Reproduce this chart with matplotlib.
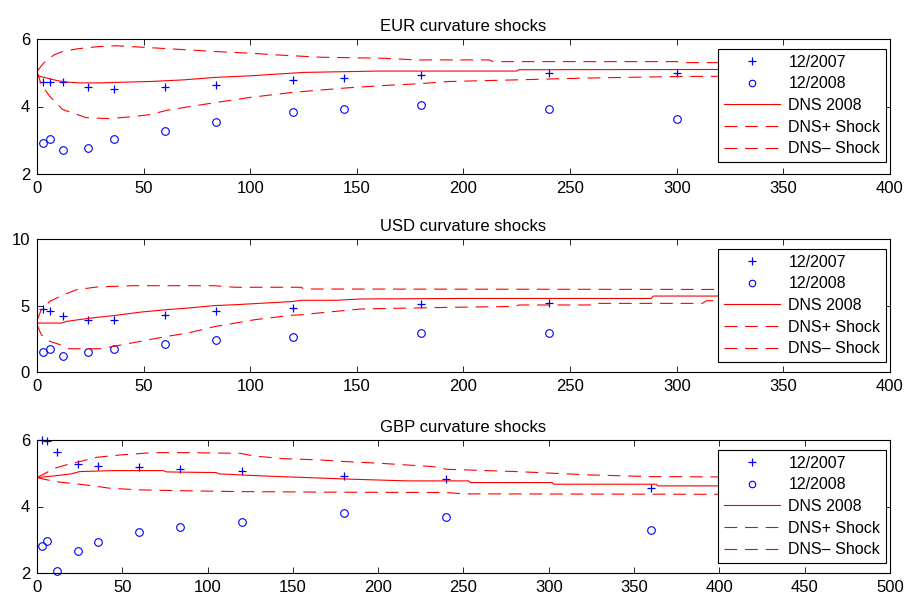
import matplotlib
matplotlib.use("Agg")
import matplotlib.pyplot as plt

plt.rcParams['font.family'] = ['Liberation Sans', 'DejaVu Sans']
plt.rcParams['lines.scale_dashes'] = False

# ---------------- EUR ----------------
eur_mat = [3, 6, 12, 24, 36, 60, 84, 120, 144, 180, 240, 300]
eur_2007 = [4.74, 4.74, 4.74, 4.58, 4.53, 4.58, 4.63, 4.78, 4.83, 4.93, 4.98, 4.98]
eur_2008 = [2.92, 3.03, 2.71, 2.76, 3.03, 3.27, 3.53, 3.83, 3.93, 4.03, 3.93, 3.63]

eur_dns_x = [0, 3, 6, 10, 15, 20, 30, 40, 53, 69, 83, 100, 125, 160, 200, 225, 226, 360]
eur_dns_y = [4.91, 4.87, 4.82, 4.76, 4.72, 4.70, 4.70, 4.72, 4.74, 4.79, 4.86, 4.91,
             5.01, 5.05, 5.05, 5.05, 5.09, 5.10]
eur_up_x = [0, 3, 8, 12, 19, 28, 37, 51, 65, 83, 100, 112, 133, 162, 178, 212, 214,
            300, 302, 360]
eur_up_y = [5.04, 5.28, 5.53, 5.63, 5.71, 5.77, 5.80, 5.75, 5.70, 5.63, 5.58, 5.53,
            5.46, 5.43, 5.38, 5.38, 5.33, 5.33, 5.30, 5.30]
eur_lo_x = [0, 2, 6, 12, 19, 23, 34, 45, 53, 61, 83, 100, 120, 145, 162, 178, 193,
            225, 256, 301, 360]
eur_lo_y = [5.04, 4.65, 4.30, 3.91, 3.76, 3.67, 3.64, 3.70, 3.76, 3.89, 4.11, 4.27,
            4.42, 4.55, 4.62, 4.67, 4.74, 4.79, 4.84, 4.89, 4.90]

# ---------------- USD ----------------
usd_mat = [3, 6, 12, 24, 36, 60, 84, 120, 180, 240]
usd_2007 = [4.74, 4.56, 4.19, 3.93, 3.93, 4.31, 4.56, 4.84, 5.11, 5.21]
usd_2008 = [1.48, 1.75, 1.23, 1.48, 1.75, 2.13, 2.38, 2.66, 2.91, 2.91]

usd_dns_x = [0, 11.5, 14, 23, 30, 36, 49, 61, 71, 83, 93, 102, 119, 124, 140, 152,
             200, 288, 289, 360]
usd_dns_y = [3.68, 3.68, 3.81, 4.01, 4.14, 4.24, 4.51, 4.69, 4.81, 4.99, 5.06, 5.14,
             5.29, 5.39, 5.39, 5.49, 5.53, 5.53, 5.71, 5.71]
usd_up_x = [0, 2, 6, 11.5, 18.6, 28, 45, 83, 93, 124, 125, 360]
usd_up_y = [3.88, 4.69, 5.31, 5.74, 6.19, 6.39, 6.49, 6.49, 6.37, 6.37, 6.24, 6.20]
usd_lo_x = [0, 2, 6, 10.7, 15, 29.6, 36, 48.6, 61, 70.7, 83, 93, 102, 119, 124, 140,
            152, 193, 224, 226, 261, 263, 312, 314, 360]
usd_lo_y = [3.56, 2.81, 2.31, 2.06, 1.75, 1.75, 1.93, 2.31, 2.68, 2.93, 3.40, 3.68,
            3.93, 4.26, 4.31, 4.56, 4.74, 4.86, 4.93, 5.04, 5.04, 5.16, 5.16, 5.36, 5.36]

# ---------------- GBP ----------------
gbp_mat = [3, 6, 12, 24, 36, 60, 84, 120, 180, 240, 360]
gbp_2007 = [6.00, 5.97, 5.65, 5.27, 5.23, 5.18, 5.13, 5.08, 4.91, 4.82, 4.55]
gbp_2008 = [2.82, 2.97, 2.05, 2.66, 2.92, 3.23, 3.38, 3.54, 3.79, 3.69, 3.28]

gbp_dns_x = [0, 10, 20, 25, 45, 74, 76, 105, 107, 132, 158, 185, 217, 253, 254,
             302, 303, 363, 364, 480]
gbp_dns_y = [4.87, 4.92, 4.98, 5.05, 5.08, 5.08, 5.04, 5.02, 4.98, 4.92, 4.87, 4.82,
             4.77, 4.77, 4.72, 4.72, 4.67, 4.67, 4.62, 4.62]
gbp_up_x = [0, 10.4, 17, 25, 35, 48.5, 68, 88, 119, 127, 144, 166, 181, 201, 232, 240,
            281, 324, 359, 480]
gbp_up_y = [4.87, 5.15, 5.25, 5.35, 5.48, 5.55, 5.62, 5.62, 5.60, 5.52, 5.44, 5.40,
            5.35, 5.30, 5.20, 5.12, 5.05, 4.95, 4.90, 4.87]
gbp_lo_x = [0, 10.4, 23, 33, 42.6, 60, 80, 115, 174, 240, 250, 480]
gbp_lo_y = [4.87, 4.75, 4.68, 4.62, 4.55, 4.50, 4.48, 4.45, 4.43, 4.42, 4.38, 4.36]

titles = ["EUR curvature shocks", "USD curvature shocks", "GBP curvature shocks"]
labels = ["12/2007", "12/2008", "DNS 2008", "DNS+ Shock", "DNS\u2013 Shock"]

panels = [
    dict(mat=eur_mat, y07=eur_2007, y08=eur_2008,
         dx=eur_dns_x, dy=eur_dns_y, ux=eur_up_x, uy=eur_up_y, lx=eur_lo_x, ly=eur_lo_y,
         xlim=(0, 400), xticks=range(0, 401, 50), ylim=(2, 6), yticks=[2, 4, 6]),
    dict(mat=usd_mat, y07=usd_2007, y08=usd_2008,
         dx=usd_dns_x, dy=usd_dns_y, ux=usd_up_x, uy=usd_up_y, lx=usd_lo_x, ly=usd_lo_y,
         xlim=(0, 400), xticks=range(0, 401, 50), ylim=(0, 10), yticks=[0, 5, 10]),
    dict(mat=gbp_mat, y07=gbp_2007, y08=gbp_2008,
         dx=gbp_dns_x, dy=gbp_dns_y, ux=gbp_up_x, uy=gbp_up_y, lx=gbp_lo_x, ly=gbp_lo_y,
         xlim=(0, 500), xticks=range(0, 501, 50), ylim=(2, 6), yticks=[2, 4, 6]),
]

W, H = 907, 598
fig = plt.figure(figsize=(W / 100, H / 100), dpi=100)
boxes = [(37, 39, 890, 174), (37, 239, 890, 372), (37, 440, 890, 573)]

red = (1.0, 0.0, 0.0)
blue = (0.0, 0.0, 1.0)
dash = (0, (9.2, 5.6))

for p, title, (x0, y0, x1, y1) in zip(panels, titles, boxes):
    ax = fig.add_axes([x0 / W, 1 - y1 / H, (x1 - x0) / W, (y1 - y0) / H])
    ax.plot(p['mat'], p['y07'], linestyle='none', marker='+', color=blue,
            markersize=6, markeredgewidth=0.9, label=labels[0], clip_on=False)
    ax.plot(p['mat'], p['y08'], linestyle='none', marker='o', color=blue,
            markerfacecolor='none', markersize=5.5, markeredgewidth=0.8,
            label=labels[1], clip_on=False)
    ax.plot(p['dx'], p['dy'], color=red, lw=0.8, label=labels[2])
    ax.plot(p['ux'], p['uy'], color=red, lw=0.8, linestyle=dash, label=labels[3])
    ax.plot(p['lx'], p['ly'], color=red, lw=0.8, linestyle=dash, label=labels[4])
    ax.set_xlim(*p['xlim'])
    ax.set_ylim(*p['ylim'])
    ax.set_xticks(list(p['xticks']))
    ax.set_yticks(p['yticks'])
    ax.tick_params(direction='in', top=True, right=True, length=4.5, width=0.6,
                   labelsize=12, pad=5)
    for s in ax.spines.values():
        s.set_linewidth(0.8)
    ax.set_title(title, fontsize=12, pad=6)
    h = y1 - y0
    leg = ax.legend(loc='upper right', bbox_to_anchor=(1 - 4 / (x1 - x0), 1 - 10 / h),
                    fontsize=11.5, numpoints=1, handlelength=3.5,
                    handletextpad=0.55, labelspacing=0.42, borderaxespad=0,
                    borderpad=0.35, markerscale=0.85, fancybox=False, framealpha=1,
                    edgecolor='black')
    leg.get_frame().set_linewidth(0.8)
    leg.set_zorder(5)

fig.savefig("out.png", dpi=100)
